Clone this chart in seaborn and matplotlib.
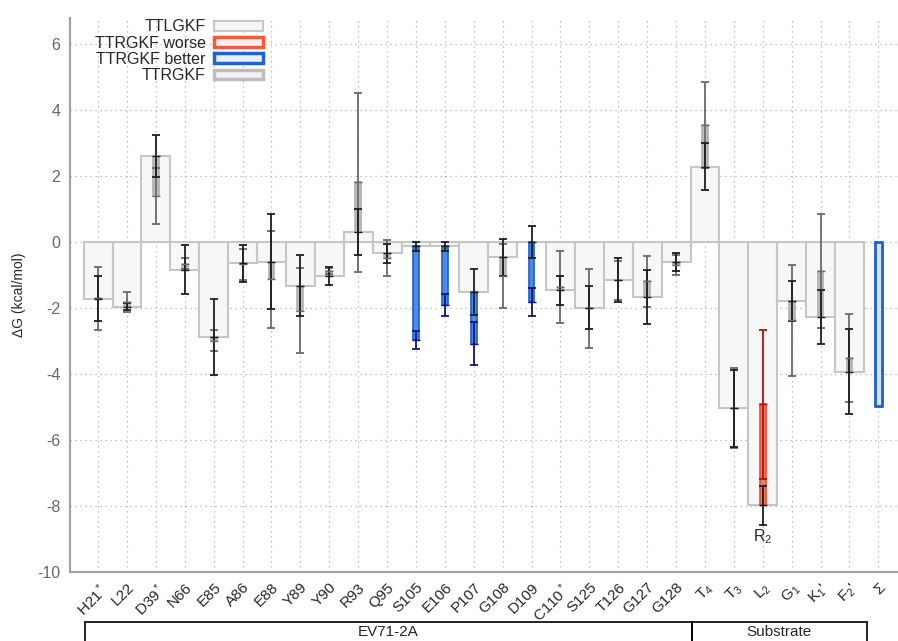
import numpy as np
import pandas as pd
import matplotlib
matplotlib.use("Agg")
import matplotlib.pyplot as plt
import matplotlib.transforms as mtransforms
from matplotlib.patches import Patch
import seaborn as sns

# --- data ---
sites = ["H21$^*$", "L22", "D39$^*$", "N66", "E85", "A86", "E88", "Y89", "Y90",
         "R93", "Q95", "S105", "E106", "P107", "G108", "D109", "C110$^*$", "S125",
         "T126", "G127", "G128", "T$_4$", "T$_3$", "L$_2$", "G$_1$", "K$_1$'",
         "F$_2$'", "Σ"]
nan = np.nan
ttlgkf = [-1.72, -1.96, 2.60, -0.84, -2.88, -0.65, -0.60, -1.33, -1.03, 0.29,
          -0.35, -0.14, -0.13, -1.52, -0.47, -0.01, -1.46, -2.00, -1.16, -1.67,
          -0.60, 2.28, -5.04, -7.98, -1.79, -2.28, -3.93, nan]
ttlgkf_err = [0.69, 0.10, 0.63, 0.74, 1.16, 0.56, 1.44, 0.92, 0.27, 0.70,
              0.29, 0.14, 0.14, 0.69, 0.55, 0.49, 0.44, 0.65, 0.66, 0.81,
              0.27, 0.71, 1.16, 0.60, 0.60, 0.82, 1.29, nan]
ttrgkf = [-1.71, -1.81, 1.39, -0.66, -2.99, -0.68, -1.13, -2.08, -0.88, 1.80,
          -0.49, -2.97, -1.92, -3.08, -1.03, -1.83, -1.37, -2.01, -1.17, -1.20,
          -0.70, 3.55, -5.03, -4.92, -2.37, -0.88, -3.53, -4.97]
ttrgkf_err = [0.96, 0.30, 0.85, 0.17, 0.33, 0.46, 1.47, 1.29, 0.08, 2.70,
              0.54, 0.26, 0.33, 0.66, 0.96, 0.42, 1.10, 1.19, 0.60, 0.78,
              0.30, 1.30, 1.22, 2.26, 1.68, 1.72, 1.33, nan]
effect = (["neutral"] * 11 + ["better", "better", "better", "neutral", "better"]
          + ["neutral"] * 7 + ["worse"] + ["neutral"] * 3 + ["sum"])
groups = [("EV71-2A", -0.45, 20.55), ("Substrate", 20.55, 26.6)]

# styles per effect: (bar face, bar edge, error bar colour)
styles = {
    "neutral": ("#bdbdbd", "#b0b0b0", "#6a6a6a"),
    "better": ("#4f8ae6", "#1a5fd6", "#14147a"),
    "worse": ("#f27a62", "#f04a2a", "#b01010"),
    "sum": ("#d6e4fb", "#1a5fd6", "#14147a"),
}

sns.set_style("white")
plt.rcParams["font.family"] = ["Liberation Sans", "DejaVu Sans"]
plt.rcParams["mathtext.fontset"] = "custom"
plt.rcParams["mathtext.rm"] = "Liberation Sans"
plt.rcParams["mathtext.it"] = "Liberation Sans:italic"
plt.rcParams["axes.unicode_minus"] = False

fig = plt.figure(figsize=(8.98, 6.41), dpi=100)
ax = fig.add_axes([0.078, 0.1076, 0.922, 0.8643])

df = pd.DataFrame({"site": sites, "ttlgkf": ttlgkf, "ttrgkf": ttrgkf})

# wide TTLGKF bars
sns.barplot(data=df, x="site", y="ttlgkf", order=sites, width=1.0,
            color="#f7f7f7", saturation=1, edgecolor="#c6c6c6", linewidth=1.5,
            errorbar=None, ax=ax, zorder=2)

x = np.arange(len(sites))
base = np.nan_to_num(np.array(ttlgkf))
diff = np.array(ttrgkf) - base

# narrow TTRGKF bars, drawn from the TTLGKF value to the TTRGKF value
for i in range(len(sites)):
    fc, ec, errc = styles[effect[i]]
    w = 0.22 if effect[i] == "sum" else 0.2
    ax.bar(x[i], diff[i], bottom=base[i], width=w, color=fc, edgecolor=ec,
           linewidth=1.2 if effect[i] != "sum" else 2, zorder=3)
    if not np.isnan(ttrgkf_err[i]):
        ax.errorbar(x[i], ttrgkf[i], yerr=ttrgkf_err[i], fmt="_", ms=6,
                    color=errc, ecolor=errc, elinewidth=1.3, capsize=3,
                    capthick=1.3, zorder=4)
    if not np.isnan(ttlgkf_err[i]):
        ax.errorbar(x[i], ttlgkf[i], yerr=ttlgkf_err[i], fmt="_", ms=6,
                    color="#1e1e1e", ecolor="#1e1e1e", elinewidth=1.3,
                    capsize=3, capthick=1.3, zorder=4)

ax.text(23, -8.92, "R$_2$", ha="center", va="center", fontsize=11.5)

ax.set_xlim(-0.97, 27.68)
ax.set_ylim(-10, 6.78)
ax.set_yticks(np.arange(-10, 7, 2))
ax.set_xticks(x)
ax.set_xticklabels(sites, rotation=45, ha="right", va="top",
                   rotation_mode="anchor", fontsize=11)
ax.tick_params(axis="x", direction="in", length=7, color="#a0a0a0", pad=6)
ax.tick_params(axis="y", direction="in", length=7, color="#a0a0a0",
               labelcolor="#666666", labelsize=11.5, pad=7)
ax.set_xlabel("")
ax.set_ylabel("ΔG (kcal/mol)", fontsize=10, labelpad=8)

ax.grid(True, axis="both", linestyle=(0, (1, 3)), color="#b0b0b0", linewidth=0.9)
ax.set_axisbelow(True)
for side in ["top", "right"]:
    ax.spines[side].set_visible(False)
for side in ["left", "bottom"]:
    ax.spines[side].set_color("#a0a0a0")
    ax.spines[side].set_linewidth(1.5)

handles = [
    Patch(facecolor="#f6f6f6", edgecolor="#c8c8c8", linewidth=1.5, label="TTLGKF"),
    Patch(facecolor="#fdf0ec", edgecolor="#f25c3c", linewidth=2.5, label="TTRGKF worse"),
    Patch(facecolor="#e8f0fc", edgecolor="#1f63d9", linewidth=2.5, label="TTRGKF better"),
    Patch(facecolor="#f2f2f2", edgecolor="#bdbdbd", linewidth=2.5, label="TTRGKF"),
]
ax.legend(handles=handles, loc="upper left", bbox_to_anchor=(0.02, 1.012),
          frameon=False, markerfirst=False, fontsize=11.5, handlelength=3.1,
          handleheight=0.55, labelspacing=0.08, borderpad=0, handletextpad=0.5)

# group brackets below the tick labels
trans = mtransforms.blended_transform_factory(ax.transData, fig.transFigure)
ytop = 1 - 622 / 641
for name, x0, x1 in groups:
    ax.plot([x0, x1], [ytop, ytop], transform=trans, clip_on=False,
            color="black", lw=1.2)
    for xv in (x0, x1):
        ax.plot([xv, xv], [ytop, -0.02], transform=trans, clip_on=False,
                color="black", lw=1.2)
    ax.text((x0 + x1) / 2, 1 - 632 / 641, name, transform=trans,
            ha="center", va="center", fontsize=11)

fig.savefig("out.png", dpi=100)
